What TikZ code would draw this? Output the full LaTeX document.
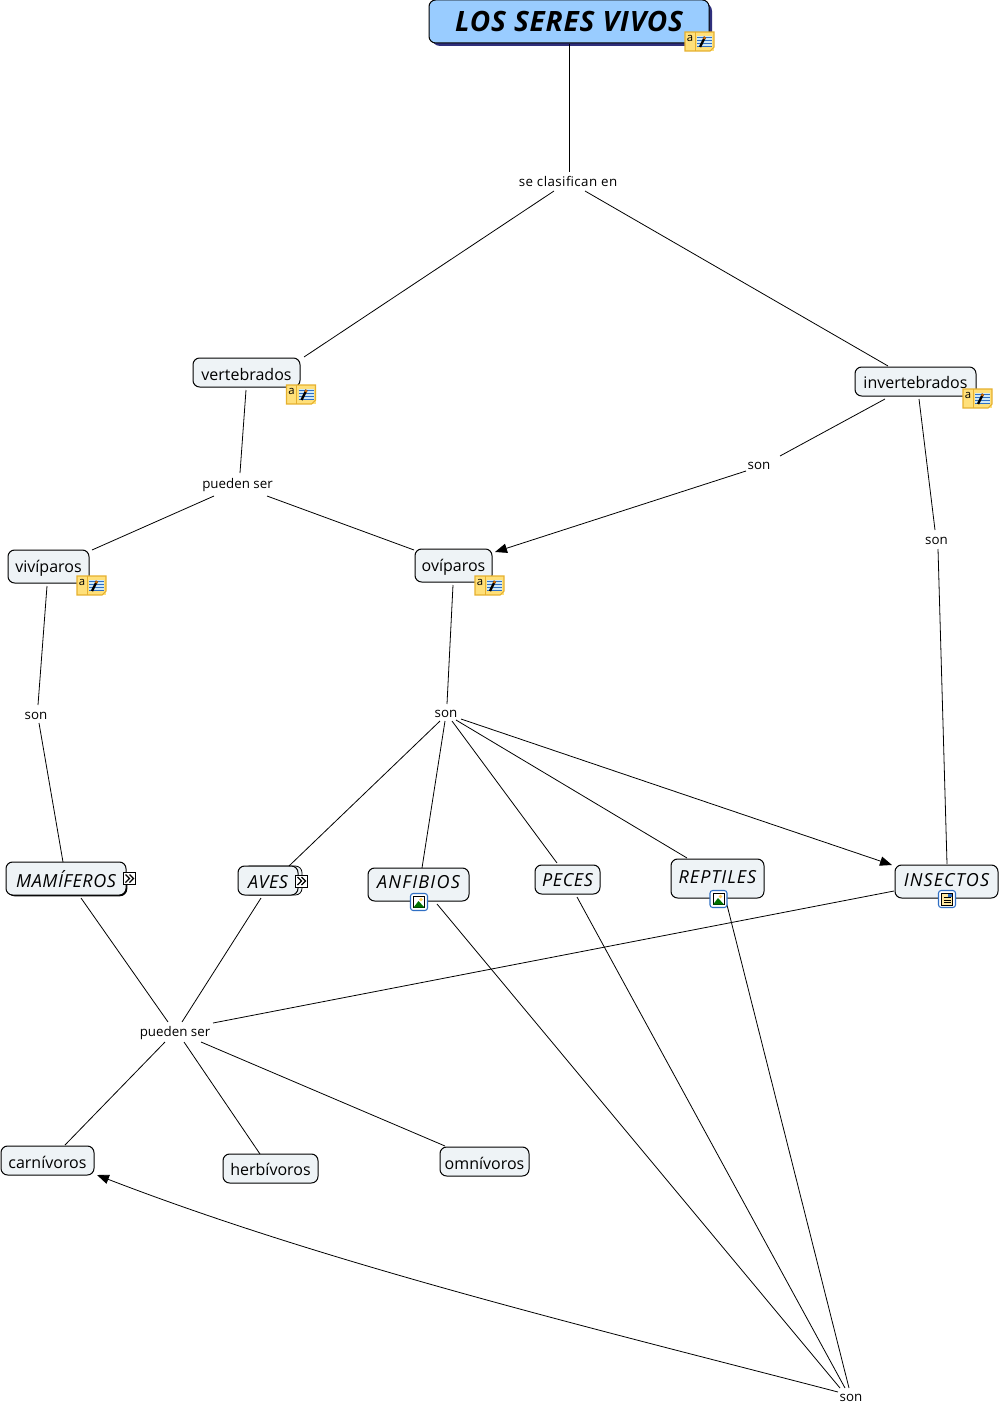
\documentclass[tikz,border=0pt]{standalone}
\usepackage{fontspec}
\setmainfont{Open Sans}
\usetikzlibrary{arrows.meta,calc}
\definecolor{nodefill}{HTML}{EEF3F6}
\definecolor{titlefill}{HTML}{99CCFF}
\definecolor{titleshadow}{HTML}{2F2F7C}
\definecolor{noteyellow}{HTML}{FFE07A}
\definecolor{noteedge}{HTML}{E5B02E}
\definecolor{noteblue}{HTML}{CFE9F7}
\definecolor{iconblue}{HTML}{2F6FC4}
\newcommand{\shiftedtext}[2]{\vphantom{#2}\smash{\raisebox{#1}{#2}}}
\newcommand{\spaced}{\addfontfeatures{LetterSpace=3}}
\tikzset{
  x=0.75pt,y=-0.75pt,
  concept/.style={draw=black,line width=0.75pt,fill=nodefill,rounded corners=5pt,inner sep=0pt,font=\fontsize{12}{14}\selectfont},
  conceptit/.style={concept,font=\fontsize{13.5}{16}\selectfont\itshape\spaced},
  linklabel/.style={inner sep=0pt,font=\fontsize{10}{12}\selectfont},
  conn/.style={draw=black,line width=0.6pt},
  connarrow/.style={conn,-{Triangle[length=9pt,width=7pt]}},
  note/.pic={
    \fill[noteyellow] (0,0) rectangle (29,19);
    \draw[noteedge,line width=.8pt] (0,0) -- (29,0) -- (29,15) -- (25,19) -- (0,19) -- cycle;
    \draw[noteedge,line width=.5pt] (10,0) -- (10,19);
    \fill[noteblue] (12,4) rectangle (27,15);
    \foreach \yy in {5,8,11,14} \draw[iconblue,line width=.5pt] (12,\yy) -- (27,\yy);
    \draw[black,line width=1.8pt] (15,15) -- (20,5);
    \draw[orange!80!black,line width=1.8pt] (19,7) -- (20,5);
    \node[inner sep=0pt,font=\fontsize{8.5}{9}\selectfont] (-a) at (5,6.5) {a};
  },
  expandicon/.pic={
    \draw[black,fill=white,line width=.7pt] (0,0) rectangle (12,12);
    \draw[black,line width=.9pt] (2,2) -- (6,6) -- (2,10) (6,2) -- (10,6) -- (6,10);
  },
  imgicon/.pic={
    \draw[iconblue,fill=white,line width=.8pt,rounded corners=2pt] (0,0) rectangle (17,17);
    \draw[black,fill=white,line width=.4pt] (3,3) rectangle (14,14);
    \fill[noteyellow!80!orange] (10.5,6) circle[radius=1.8];
    \fill[green!45!black] (3,14) -- (8,7.5) -- (14,14) -- cycle;
  },
  docicon/.pic={
    \draw[iconblue,fill=white,line width=.8pt,rounded corners=2pt] (0,0) rectangle (17,17);
    \draw[black,fill=noteyellow!70!white,line width=.4pt] (3,2.5) rectangle (14,14.5);
    \foreach \yy in {7,9.5,12} \draw[black,line width=.4pt] (5,\yy) -- (12,\yy);
    \fill[iconblue] (9,3.5) rectangle (13,6);
  }
}
\begin{document}
\begin{tikzpicture}
\useasboundingbox (0,0) rectangle (1000,1405);
\fill[white] (0,0) rectangle (1000,1405);

% link labels
\node[linklabel] (lse) at (568,181) {\addfontfeatures{LetterSpace=3.3}\shiftedtext{-0.3pt}{se clasifican en}};
\node[linklabel] (lpa) at (237.5,483) {\shiftedtext{-1.5pt}{pueden ser}};
\node[linklabel] (lsa) at (759,464) {\shiftedtext{-1.5pt}{son}};
\node[linklabel] (lsb) at (936.5,539) {\shiftedtext{-1.5pt}{son}};
\node[linklabel] (lsc) at (36,714) {\shiftedtext{-1.5pt}{son}};
\node[linklabel] (lsd) at (446,712) {\shiftedtext{-1.5pt}{son}};
\node[linklabel] (lpb) at (175,1031) {\shiftedtext{-1.5pt}{pueden ser}};
\node[linklabel] (lse2) at (851,1396) {\shiftedtext{-1.5pt}{son}};

% shadows
\fill[titleshadow,rounded corners=6pt] (432,3) rectangle (712,46);
\draw[black,fill=nodefill,line width=.6pt,rounded corners=5pt] (243,866) rectangle (302,895);
\draw[black,line width=1.2pt,rounded corners=5pt] (8,880) -- (8,895.5) -- (126.5,895.5) -- (126.5,880);

% concepts
\node[concept,fill=titlefill,minimum width=280*0.75pt,minimum height=43*0.75pt,font=\fontsize{21}{24}\selectfont\bfseries\itshape\spaced] (title) at (569,21.5) {LOS SERES VIVOS};
\node[concept,minimum width=107*0.75pt,minimum height=29*0.75pt] (vert) at (246.5,372.5) {\shiftedtext{-1.5pt}{vertebrados}};
\node[concept,minimum width=121*0.75pt,minimum height=29*0.75pt] (inv) at (915.5,381.5) {\shiftedtext{-0.8pt}{invertebrados}};
\node[concept,minimum width=81*0.75pt,minimum height=33*0.75pt] (viv) at (48.5,566.5) {\shiftedtext{-1.5pt}{vivíparos}};
\node[concept,minimum width=77*0.75pt,minimum height=33*0.75pt] (ovi) at (453.5,565.5) {\shiftedtext{-1.5pt}{ovíparos}};
\node[conceptit,minimum width=120*0.75pt,minimum height=33*0.75pt] (mam) at (66,878.5) {\shiftedtext{-0.8pt}{MAMÍFEROS}};
\node[conceptit,minimum width=60*0.75pt,minimum height=29*0.75pt] (ave) at (268,880.5) {\shiftedtext{-0.8pt}{AVES}};
\node[conceptit,minimum width=101*0.75pt,minimum height=33*0.75pt] (anf) at (418.5,884.5) {\addfontfeatures{LetterSpace=7}\shiftedtext{1.5pt}{ANFIBIOS}};
\node[conceptit,minimum width=65*0.75pt,minimum height=29*0.75pt] (pec) at (567.5,879.5) {\shiftedtext{-0.7pt}{PECES}};
\node[conceptit,minimum width=93*0.75pt,minimum height=39*0.75pt] (rep) at (717.5,878.5) {\addfontfeatures{LetterSpace=5.5}\shiftedtext{0.8pt}{REPTILES}};
\node[conceptit,minimum width=103*0.75pt,minimum height=33*0.75pt] (ins) at (946.5,881.5) {\addfontfeatures{LetterSpace=6}\shiftedtext{0.8pt}{INSECTOS}};
\node[concept,minimum width=93*0.75pt,minimum height=29*0.75pt] (car) at (47.5,1160.5) {\shiftedtext{-1.5pt}{carnívoros}};
\node[concept,minimum width=95*0.75pt,minimum height=29*0.75pt] (her) at (270.5,1168.5) {\shiftedtext{-1pt}{herbívoros}};
\node[concept,minimum width=89*0.75pt,minimum height=29*0.75pt] (omn) at (484.5,1161.5) {\shiftedtext{-1.5pt}{omnívoros}};

% connectors
\draw[conn] ($(title)+(0,22.5)$) -- ($(lse)+(1,-9)$);
\draw[conn] ($(lse)+(-14,10)$) -- ($(vert)+(57.5,-15.5)$);
\draw[conn] ($(lse)+(17,10)$) -- ($(inv)+(-27.5,-15.5)$);
\draw[conn] ($(vert)+(-0.5,17.5)$) -- ($(lpa)+(2.5,-10)$);
\draw[conn] ($(lpa)+(-23.5,13)$) -- ($(viv)+(43.5,-16.5)$);
\draw[conn] ($(lpa)+(29.5,13)$) -- ($(ovi)+(-39.5,-15.5)$);
\draw[conn] ($(inv)+(-30.5,17.5)$) -- ($(lsa)+(21,-8)$);
\draw[connarrow] ($(lsa)+(-13,7)$) -- ($(ovi)+(41.5,-13.5)$);
\draw[conn] ($(inv)+(3.5,17.5)$) -- ($(lsb)+(-1.5,-9)$);
\draw[conn] ($(lsb)+(1.5,10)$) -- ($(ins)+(0.5,-17.5)$);
\draw[conn] ($(viv)+(-1.5,19.5)$) -- ($(lsc)+(2,-9)$);
\draw[conn] ($(lsc)+(3,9)$) -- ($(mam)+(-3,-16.5)$);
\draw[conn] ($(ovi)+(-0.5,19.5)$) -- ($(lsd)+(1,-8)$);
\draw[conn] ($(lsd)+(-6,9)$) -- ($(ave)+(21,-14.5)$);
\draw[conn] ($(lsd)+(-1,9)$) -- ($(anf)+(3.5,-16.5)$);
\draw[conn] ($(lsd)+(6,9)$) -- ($(pec)+(-10.5,-16.5)$);
\draw[conn] ($(lsd)+(10,8)$) -- ($(rep)+(-30.5,-20.5)$);
\draw[connarrow] ($(lsd)+(15,7)$) -- ($(ins)+(-54.5,-16.5)$);
\draw[conn] ($(mam)+(15,19.5)$) -- ($(lpb)+(-7,-9)$);
\draw[conn] ($(ave)+(-7,17.5)$) -- ($(lpb)+(7,-9)$);
\draw[conn] ($(ins)+(-52.5,9.5)$) -- ($(lpb)+(38,-8)$);
\draw[conn] ($(lpb)+(-10,11)$) -- ($(car)+(17.5,-15.5)$);
\draw[conn] ($(lpb)+(9,11)$) -- ($(her)+(-10.5,-14.5)$);
\draw[conn] ($(lpb)+(26,11)$) -- ($(omn)+(-39.5,-15.5)$);
\draw[conn] ($(anf)+(18.5,19.5)$) -- ($(lse2)+(-11,-8)$);
\draw[conn] ($(pec)+(9.5,17.5)$) -- ($(lse2)+(-6,-8)$);
\draw[conn] ($(rep)+(8.5,22.5)$) -- ($(lse2)+(-2,-8)$);
\draw[connarrow] ($(lse2)+(-13,-4)$) .. controls (600,1330) and (330,1265) .. ($(car)+(49.5,14.5)$);

% icons
\pic (ia) at (685,32) {note};
\pic (ib) at (286.5,385) {note};
\pic (ic) at (963,389) {note};
\pic (id) at (77,576) {note};
\pic (ie) at (475,576) {note};
\pic (ig) at (123.5,872.5) {expandicon};
\pic (ih) at (295.5,875) {expandicon};
\pic (ii) at (410.5,893.5) {imgicon};
\pic (ij) at (710,890.5) {imgicon};
\pic (ik) at (938.5,890.5) {docicon};
\end{tikzpicture}
\end{document}
